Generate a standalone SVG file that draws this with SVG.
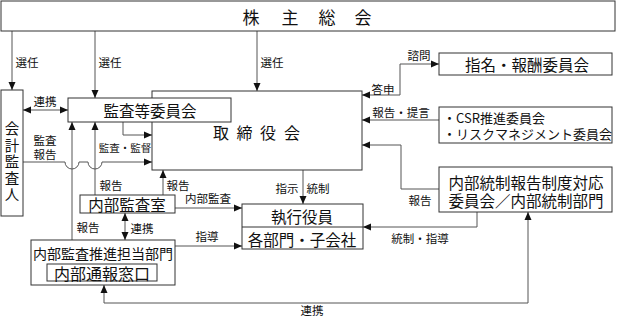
<svg xmlns="http://www.w3.org/2000/svg" width="617" height="318" viewBox="0 0 617 318">
<style>
.box{fill:#fff;stroke:#333;stroke-width:1}
.ln{fill:none;stroke:#555;stroke-width:1}
.a{marker-end:url(#ah)}
.b{marker-start:url(#ah);marker-end:url(#ah)}
text{font-family:"Noto Sans CJK JP","Noto Sans CJK SC",sans-serif;fill:#111;dominant-baseline:central}
.m{font-size:15.5px;text-anchor:middle}
.s{font-size:11.5px;text-anchor:middle}
</style>
<defs>
<marker id="ah" viewBox="0 0 8 8" refX="8" refY="4" markerWidth="8" markerHeight="8" markerUnits="userSpaceOnUse" orient="auto-start-reverse">
<path d="M0,0.5 L8,4 L0,7.5 Z" fill="#111"/>
</marker>
</defs>
<rect width="617" height="318" fill="#fff"/>

<g id="connectors">
<path class="ln a" d="M12,31 V90"/>
<path class="ln a" d="M95,31 V98"/>
<path class="ln a" d="M257,31 V91"/>
<path class="ln b" d="M23,110 H68"/>
<path class="ln a" d="M123,122 V135 H152"/>
<path class="ln a" d="M23,162 H65 a7,7 0 0 0 14,0 H88 a7,7 0 0 0 14,0 H152"/>
<path class="ln a" d="M72,240 V122"/>
<path class="ln a" d="M95,195 V122"/>
<path class="ln a" d="M163,195 V170"/>
<path class="ln a" d="M175,208 H242"/>
<path class="ln b" d="M125,213 V240"/>
<path class="ln a" d="M175,246 H242"/>
<path class="ln a" d="M303,170 V204"/>
<path class="ln a" d="M477,212 V227 H363"/>
<path class="ln b" d="M104,285 V303 H528 V212"/>
<path class="ln a" d="M439,189 H401 V145 H362"/>
<path class="ln a" d="M439,120 H362"/>
<path class="ln b" d="M439,64 H400 V95 H362"/>
</g>

<g id="labels">
<text class="s" x="27" y="62">選任</text>
<text class="s" x="110" y="62">選任</text>
<text class="s" x="272" y="62">選任</text>
<text class="s" x="45" y="101">連携</text>
<text class="s"><tspan x="45" y="140">監査</tspan><tspan x="45" y="154">報告</tspan></text>
<text class="s" x="125" y="147" style="font-size:10.5px">監査・監督</text>
<text class="s" x="419" y="55">諮問</text>
<text class="s" x="383" y="89">答申</text>
<text class="s" x="401" y="112">報告・提言</text>
<text class="s" x="420" y="200">報告</text>
<text class="s" x="420" y="238">統制・指導</text>
<text class="s" x="287" y="188">指示</text>
<text class="s" x="318" y="188">統制</text>
<text class="s" x="111" y="185">報告</text>
<text class="s" x="178" y="185">報告</text>
<text class="s" x="208" y="198">内部監査</text>
<text class="s" x="88" y="227">報告</text>
<text class="s" x="142" y="228">連携</text>
<text class="s" x="207" y="236">指導</text>
<text class="s" x="312" y="309.5">連携</text>
</g>

<g id="shareholders">
<rect class="box" x="1" y="1" width="614" height="30"/>
<text x="242.5 281.5 318.5 354.5" y="16" style="font-size:17px">株主総会</text>
</g>

<g id="auditor">
<rect class="box" x="1" y="90" width="22" height="126"/>
<text x="12" y="121.5" style="writing-mode:vertical-rl;font-size:14.5px;letter-spacing:2px">会計監査人</text>
</g>

<g id="board">
<rect class="box" x="152" y="91" width="210" height="79"/>
<text x="213 236.5 260 284" y="132" style="font-size:16px">取締役会</text>
</g>

<g id="audit-committee">
<rect class="box" x="68" y="98" width="163" height="24"/>
<text class="m" x="150" y="110">監査等委員会</text>
</g>

<g id="nomination">
<rect class="box" x="439" y="53" width="173" height="22"/>
<text class="m" x="527" y="64">指名・報酬委員会</text>
</g>

<g id="csr">
<rect class="box" x="439" y="107" width="173" height="36"/>
<text style="font-size:13px"><tspan x="443" y="117">・CSR推進委員会</tspan><tspan x="443" y="133">・リスクマネジメント委員会</tspan></text>
</g>

<g id="internal-control">
<rect class="box" x="439" y="167" width="173" height="45"/>
<text class="m"><tspan x="526" y="182">内部統制報告制度対応</tspan><tspan x="526" y="200">委員会／内部統制部門</tspan></text>
</g>

<g id="executives">
<rect class="box" x="242" y="204" width="121" height="45"/>
<path class="ln" d="M242,227 H363" style="stroke:#333"/>
<text class="m" x="302" y="216">執行役員</text>
<text class="m" x="302" y="239">各部門・子会社</text>
</g>

<g id="internal-audit">
<rect class="box" x="80" y="195" width="95" height="18"/>
<text class="m" x="127" y="204">内部監査室</text>
</g>

<g id="audit-promotion">
<rect class="box" x="31" y="240" width="144" height="45"/>
<text class="m" x="103" y="253" style="font-size:14px">内部監査推進担当部門</text>
<rect class="box" x="47" y="264" width="110" height="17"/>
<text class="m" x="102" y="272.5" style="font-size:16px">内部通報窓口</text>
</g>
</svg>
